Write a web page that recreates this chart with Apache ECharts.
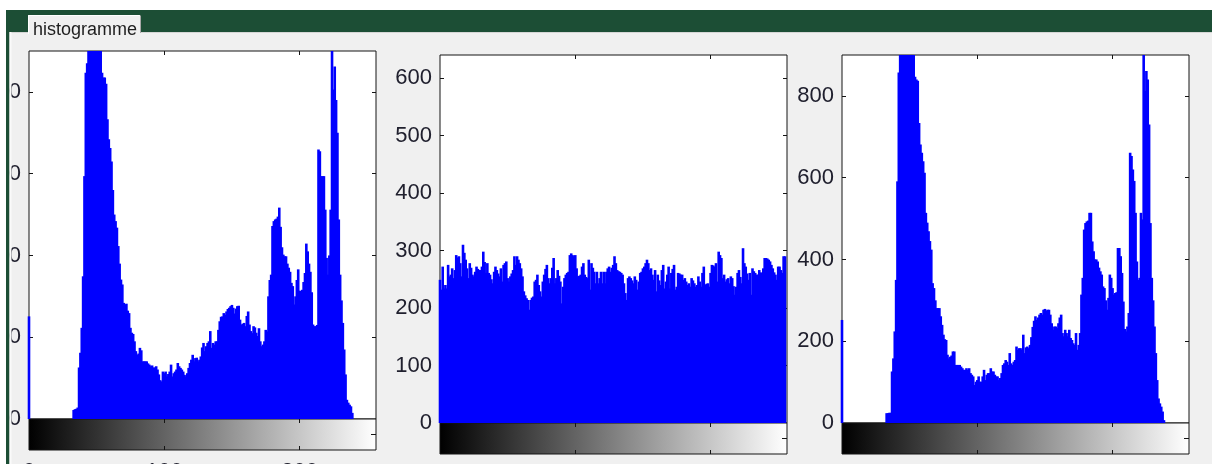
<!DOCTYPE html>
<html>
<head>
<meta charset="utf-8">
<script src="https://cdn.jsdelivr.net/npm/echarts@6/dist/echarts.min.js"></script>
<style>
html,body{margin:0;padding:0;background:#f0f0f0;}
#c{width:1212px;height:464px;}
</style>
</head>
<body>
<div id="c"></div>
<script>
// ---- data ----
const panelTitle = 'histogramme';
const grayTicks = [0, 100, 200];
const leftTicks = [0, 200, 400, 600, 800];
const middleTicks = [0, 100, 200, 300, 400, 500, 600];
const rightTicks = [0, 200, 400, 600, 800];

// grey level of each bin
const bins = Array.from({length: 256}, (_, i) => i);

const leftCounts = [251,
0,0,0,0,0,0,0,0,0,0, 0,0,0,0,0,0,0,0,0,0, 0,0,0,0,0,0,0,0,0,0, 0,0,
22,24,25,28,
126,162,223,349,594,847,
870,960,1010,1050,1080,1090,1060,1030,990,960,920,
847,835,835,820,733,684,663,630,560,500,
484,468,423,380,341,329,284,280,282,265,
259,223,211,208,190,166,157,160,174,168,
141,141,141,141,136,133,129,131,126,126,
129,121,109,95,92,116,112,116,104,110,
116,133,104,112,116,121,137,129,125,121,
116,108,104,112,125,137,145,157,141,149,
150,141,145,153,175,186,166,178,186,190,
215,174,186,182,190,190,218,239,250,251,
259,255,263,269,272,276,279,272,258,270,
276,277,243,231,233,235,227,252,263,231,
215,210,227,224,211,203,222,190,178,182,
190,218,214,300,340,353,472,484,488,490,
495,517,470,420,402,398,398,380,370,360,
333,325,280,300,340,366,314,313,316,335,
357,429,410,380,360,310,231,227,227,230,
659,655,594,594,594,512,394,353,400,512,
980,806,862,780,700,488,353,290,235,170,
109,47,40,35,31,15,
0,0,0,0,0,0,0,0,0,0,0,0,0,0,0,0];

const middleCounts = [
249,232,272,234,240, 234,275,255,258,
269,252,266,292,288, 290,278,255,310,296,
284,269,252,278,270, 258,255,263,272,268,
266,266,272,298,280, 261,278,261,258,250,
243,263,272,266,260, 255,269,246,275,278,
281,252,246,255,260, 266,290,275,290,284,
278,269,255,229,222, 217,214,197,214,218,
220,246,249,258,240, 229,220,246,258,268,
275,252,243,252,270, 287,243,252,266,256,
246,208,237,252,258, 261,263,292,295,292,
290,292,269,255,256, 258,272,278,258,254,
252,284,232,278,270, 263,243,263,243,252,
263,243,263,243, 263,269,272,263,270,
275,290,278,266,264, 263,261,258,243,226,
214,252,255,252,248, 243,255,249,232,246,
261,263,269,272,278, 284,278,266,269,258,
249,266,229,258,248, 240,266,275,234,246,
258,272,234,261,268, 275,232,237,261,260,
258,258,249,252,246, 240,243,237,252,248,
243,237,240,255,246, 237,261,272,240,242,
243,237,261,275,274, 272,278,246,298,292,
287,252,258,246,250, 252,243,255,252,238,
223,237,261,266,254, 243,304,278,272,260,
249,261,223,269,264, 261,258,258,266,262,
261,269,287,287,286, 284,281,275,269,262,
258,249,272,272,266, 261,290,290];

const rightCounts = [252,
0,0,0,0,0,0,0,0,0,0, 0,0,0,0,0,0,0,0,0,0, 0,0,0,0,0,0,0,0,0,0, 0,0,
24,24,25,25,
126,158,224,350,591,857,
920,970,1010,1050,1080,1090,1060,1030,990,960,920,
847,840,837,734,681,661,640,612,514,490,
469,445,424,342,330,300,281,281,281,261,
240,216,205,203,167,158,162,165,175,175,
142,142,142,142,138,134,130,130,134,130,
134,122,118,114,93,101,105,114,101,101,
114,130,105,118,122,122,134,126,126,118,
114,114,105,110,122,142,146,154,150,142,
171,146,142,150,154,187,179,183,183,179,
216,171,185,187,183,191,210,235,250,261,
252,258,265,269,265,277,279,275,277,277,
265,244,228,236,236,232,244,258,265,220,
212,228,220,212,228,208,203,195,191,220,
179,191,220,314,355,473,489,493,495,514,
514,444,420,400,400,395,380,371,363,334,
330,300,277,306,363,355,330,314,318,320,
428,428,408,367,297,230,224,236,269,661,
653,620,592,514,395,350,355,514,498,960,
812,861,840,730,489,355,300,236,171,105,
60,48,40,28,7,
0,0,0,0,0,0,0,0,0,0,0,0,0,0,0,0];

// ---- chart ----
const FONT = '"Liberation Sans", Arial, sans-serif';
const TICK_SIZE = 22;
const LABEL = '#20202e';
const EDGE = '#151515';
const X_MAX = 256.5;

const panels = [
  {left: 29,  top: 51, width: 347, height: 368, ymax: 900, ticks: leftTicks,   counts: leftCounts},
  {left: 440, top: 55, width: 347, height: 368, ymax: 640, ticks: middleTicks, counts: middleCounts},
  {left: 842, top: 55, width: 347, height: 368, ymax: 900, ticks: rightTicks,  counts: rightCounts}
];
const barH = 31;

function tick(len) {
  return {show: true, inside: true, length: len, lineStyle: {color: EDGE, width: 1}};
}
const noLine = {show: false, onZero: false};

const grids = [], xAxes = [], yAxes = [], series = [];
panels.forEach(p => {
  const step = p.ticks[1] - p.ticks[0];
  const hg = grids.length;
  grids.push({left: p.left, top: p.top, width: p.width, height: p.height,
    show: true, backgroundColor: '#ffffff', borderColor: EDGE, borderWidth: 1, outerBoundsMode: 'none', containLabel: false});
  const cg = grids.length;
  grids.push({left: p.left, top: p.top + p.height, width: p.width, height: barH,
    show: true, borderColor: EDGE, borderWidth: 1, outerBoundsMode: 'none', containLabel: false,
    backgroundColor: {type: 'linear', x: 0, y: 0, x2: 1, y2: 0,
      colorStops: [{offset: 0, color: '#000000'}, {offset: 1, color: '#ffffff'}]}});

  const hx = xAxes.length;
  xAxes.push({gridIndex: hg, type: 'value', min: 0, max: X_MAX, interval: grayTicks[1] - grayTicks[0], position: 'top',
    axisLine: noLine, axisTick: Object.assign(tick(4), {customValues: grayTicks.slice(1)}),
    axisLabel: {show: false}, splitLine: {show: false}});
  const hy = yAxes.length;
  yAxes.push({gridIndex: hg, type: 'value', min: 0, max: p.ymax, interval: step, position: 'left',
    axisLine: noLine, axisTick: Object.assign(tick(4), {customValues: p.ticks.slice(1)}),
    axisLabel: {show: true, margin: 8, fontSize: TICK_SIZE, fontFamily: FONT, color: LABEL, customValues: p.ticks},
    splitLine: {show: false}});
  yAxes.push({gridIndex: hg, type: 'value', min: 0, max: p.ymax, interval: step, position: 'right',
    axisLine: noLine, axisTick: Object.assign(tick(4), {customValues: p.ticks.slice(1)}),
    axisLabel: {show: false}, splitLine: {show: false}});
  xAxes.push({gridIndex: cg, type: 'value', min: 0, max: X_MAX, interval: grayTicks[1] - grayTicks[0], position: 'bottom',
    axisLine: noLine, axisTick: Object.assign(tick(4), {customValues: grayTicks.slice(1)}),
    axisLabel: {show: true, margin: 11, fontSize: TICK_SIZE, fontFamily: FONT, color: LABEL, customValues: grayTicks},
    splitLine: {show: false}});
  xAxes.push({gridIndex: cg, type: 'value', min: 0, max: X_MAX, interval: grayTicks[1] - grayTicks[0], position: 'top',
    axisLine: noLine, axisTick: Object.assign(tick(4), {customValues: grayTicks.slice(1)}),
    axisLabel: {show: false}, splitLine: {show: false}});
  yAxes.push({gridIndex: cg, type: 'value', min: 0, max: 1, interval: 0.5, position: 'right',
    axisLine: noLine, axisTick: Object.assign(tick(5), {customValues: [0.5]}),
    axisLabel: {show: false}, splitLine: {show: false}});

  series.push({type: 'bar', xAxisIndex: hx, yAxisIndex: hy, barWidth: 2.6, clip: true, silent: true,
    itemStyle: {color: '#0000ff'},
    data: bins.map((b, i) => [b, p.counts[i]])});
});

const graphic = [
  {type: 'rect', z: 100, shape: {x: 0, y: 0, width: 1212, height: 10}, style: {fill: '#ffffff'}},
  {type: 'rect', z: 100, shape: {x: 0, y: 0, width: 6, height: 464}, style: {fill: '#ffffff'}},
  {type: 'rect', z: 100, shape: {x: 6, y: 10, width: 1206, height: 22}, style: {fill: '#1c4e35'}},
  {type: 'rect', z: 100, shape: {x: 6, y: 10, width: 3.5, height: 454}, style: {fill: '#1c4e35'}},
  {type: 'rect', z: 100, shape: {x: 9.5, y: 32, width: 2, height: 432}, style: {fill: '#fafafa'}},
  {type: 'rect', z: 100, shape: {x: 11.5, y: 32, width: 1200.5, height: 1}, style: {fill: '#d6d6d6'}},
  {type: 'rect', z: 101, shape: {x: 28, y: 15, width: 112, height: 19}, style: {fill: '#f0f0f0'}},
  {type: 'polyline', z: 102, shape: {points: [[28.5, 34], [28.5, 15.5], [139.5, 15.5]]}, style: {stroke: '#ffffff', fill: null, lineWidth: 1}},
  {type: 'line', z: 102, shape: {x1: 140.5, y1: 15.5, x2: 140.5, y2: 33}, style: {stroke: '#a8a8a8', lineWidth: 1}},
  {type: 'text', z: 103, x: 33, y: 30, style: {text: panelTitle, font: '18px ' + FONT, fill: '#1e1e1e', textVerticalAlign: 'middle', verticalAlign: 'middle'}}
];

const chart = echarts.init(document.getElementById('c'), null, {renderer: 'canvas'});
chart.setOption({
  animation: false,
  backgroundColor: '#f0f0f0',
  grid: grids,
  xAxis: xAxes,
  yAxis: yAxes,
  series: series,
  graphic: graphic
});
</script>
</body>
</html>
